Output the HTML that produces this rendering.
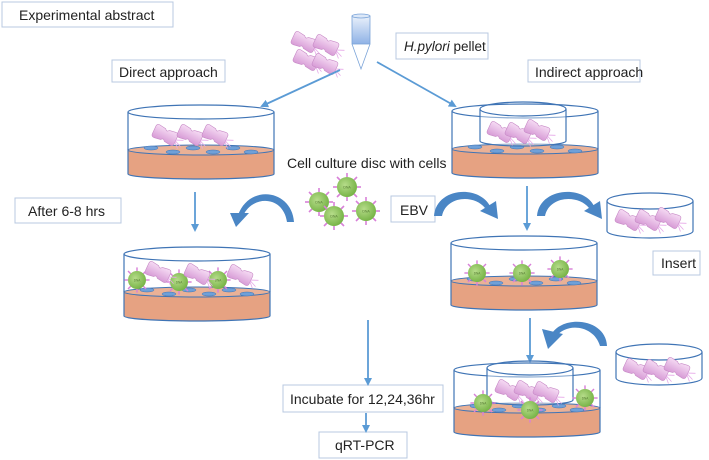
<!DOCTYPE html>
<html><head><meta charset="utf-8"><style>
html,body{margin:0;padding:0;background:#fff;}
svg{display:block;font-family:"Liberation Sans",sans-serif;}
</style></head><body>
<svg width="709" height="460" viewBox="0 0 709 460" xmlns="http://www.w3.org/2000/svg">
<defs>
<linearGradient id="tube" x1="0" y1="0" x2="0" y2="1"><stop offset="0" stop-color="#eaf1fb"/><stop offset="1" stop-color="#8fb2e6"/></linearGradient>
<linearGradient id="bac" x1="0" y1="0" x2="0" y2="1"><stop offset="0" stop-color="#f6dcf4"/><stop offset="1" stop-color="#d79bd6"/></linearGradient>
<radialGradient id="vir" cx="0.4" cy="0.4" r="0.7"><stop offset="0" stop-color="#b6dc8a"/><stop offset="1" stop-color="#6fae3e"/></radialGradient>
<g id="b">
  <path d="M-12,-4 Q-12,-7 -9,-7 L-2,-6 Q0,-3 2,-6 L9,-7 Q12,-7 12,-4 L12,4 Q12,7 9,7 L2,6 Q0,3 -2,6 L-9,7 Q-12,7 -12,4 Z" fill="url(#bac)" stroke="#c78ac6" stroke-width="0.6"/>
  <path d="M12,0 L19,-3 M12,1 L19,4 M12,2 L17,7" stroke="#e6a8e8" stroke-width="0.8" fill="none"/>
</g>
<g id="v">
  <g stroke="#d880d8" stroke-width="1.6">
  <line x1="0" y1="-10" x2="0" y2="-14"/><line x1="0" y1="10" x2="0" y2="14"/><line x1="-10" y1="0" x2="-14" y2="0"/><line x1="10" y1="0" x2="14" y2="0"/>
  <line x1="7" y1="7" x2="10" y2="10"/><line x1="-7" y1="7" x2="-10" y2="10"/><line x1="7" y1="-7" x2="10" y2="-10"/><line x1="-7" y1="-7" x2="-10" y2="-10"/>
  </g>
  <circle r="10" fill="url(#vir)"/>
  <text x="0" y="1.5" font-size="3.5" text-anchor="middle" fill="#557a33">DNA</text>
</g>
<g id="cells">
  <ellipse cx="-50" cy="3" rx="7" ry="2" fill="#6fa0d8" stroke="#3f74b5" stroke-width="0.5"/>
  <ellipse cx="-28" cy="7" rx="7" ry="2" fill="#6fa0d8" stroke="#3f74b5" stroke-width="0.5"/>
  <ellipse cx="-8" cy="3" rx="7" ry="2" fill="#6fa0d8" stroke="#3f74b5" stroke-width="0.5"/>
  <ellipse cx="12" cy="7" rx="7" ry="2" fill="#6fa0d8" stroke="#3f74b5" stroke-width="0.5"/>
  <ellipse cx="32" cy="3" rx="7" ry="2" fill="#6fa0d8" stroke="#3f74b5" stroke-width="0.5"/>
  <ellipse cx="50" cy="7" rx="7" ry="2" fill="#6fa0d8" stroke="#3f74b5" stroke-width="0.5"/>
</g>
<g id="dish">
  <path d="M-73,38 L-73,62 A73,5 0 0 0 73,62 L73,38 Z" fill="#e6a282" stroke="#3f74b5" stroke-width="1.2"/>
  <ellipse cx="0" cy="38" rx="73" ry="5" fill="#eab196" stroke="#3f74b5" stroke-width="1"/>
  <use href="#cells" x="0" y="33"/>
  <line x1="-73" y1="0" x2="-73" y2="38" stroke="#3f74b5" stroke-width="1.2"/>
  <line x1="73" y1="0" x2="73" y2="38" stroke="#3f74b5" stroke-width="1.2"/>
  <ellipse cx="0" cy="0" rx="73" ry="7" fill="none" stroke="#3f74b5" stroke-width="1.2"/>
</g>
<g id="ins">
  <path d="M-43,0 L-43,32 A43,5 0 0 0 43,32 L43,0" fill="rgba(255,255,255,0.4)" stroke="#3f74b5" stroke-width="1.2"/>
  <ellipse cx="0" cy="0" rx="43" ry="7" fill="none" stroke="#3f74b5" stroke-width="1.2"/>
</g>
<marker id="ah" markerWidth="8" markerHeight="8" refX="6" refY="4" orient="auto" markerUnits="userSpaceOnUse"><path d="M0,0 L8,4 L0,8 Z" fill="#5b9bd5"/></marker>
</defs>

<g fill="#fff" stroke="#b8c9e0" stroke-width="1">
<rect x="2" y="2" width="171" height="25"/>
<rect x="112" y="60" width="113" height="22"/>
<rect x="396" y="33" width="92" height="26"/>
<rect x="528" y="60" width="112" height="22"/>
<rect x="15" y="198" width="106" height="25"/>
<rect x="391" y="196" width="44" height="26"/>
<rect x="653" y="251" width="47" height="24"/>
<rect x="283" y="385" width="160" height="27"/>
<rect x="319" y="432" width="88" height="26"/>
</g>
<g font-size="14" fill="#222">
<text x="19" y="20">Experimental abstract</text>
<text x="119" y="77">Direct approach</text>
<text x="404" y="51" font-size="13.5"><tspan font-style="italic">H.pylori</tspan> pellet</text>
<text x="535" y="77">Indirect approach</text>
<text x="287" y="168">Cell culture disc with cells</text>
<text x="28" y="216">After 6-8 hrs</text>
<text x="400" y="215">EBV</text>
<text x="661" y="268">Insert</text>
<text x="290" y="404">Incubate for 12,24,36hr</text>
<text x="335" y="450">qRT-PCR</text>
</g>

<rect x="352" y="16" width="18" height="28" fill="url(#tube)" stroke="#7aa3d8" stroke-width="0.8"/>
<ellipse cx="361" cy="16" rx="9" ry="2" fill="#dce8f8" stroke="#7aa3d8" stroke-width="0.8"/>
<path d="M352,44 L361,69 L370,44" fill="none" stroke="#7aa3d8" stroke-width="0.8"/>
<use href="#b" transform="translate(304,42) rotate(25)"/>
<use href="#b" transform="translate(326,45) rotate(25)"/>
<use href="#b" transform="translate(306,60) rotate(25)"/>
<use href="#b" transform="translate(325,64) rotate(25)"/>

<g stroke="#5b9bd5" stroke-width="1.8" fill="none" marker-end="url(#ah)">
<line x1="340" y1="70" x2="262" y2="106"/>
<line x1="377" y1="62" x2="455" y2="106"/>
<line x1="195" y1="192" x2="195" y2="230"/>
<line x1="527" y1="186" x2="527" y2="229"/>
<line x1="368" y1="320" x2="368" y2="384"/>
<line x1="366" y1="413" x2="366" y2="431"/>
<line x1="530" y1="318" x2="530" y2="361"/>
</g>

<use href="#dish" x="201" y="112"/>
<use href="#b" transform="translate(165,135) rotate(25)"/>
<use href="#b" transform="translate(190,135) rotate(25)"/>
<use href="#b" transform="translate(215,135) rotate(25)"/>

<use href="#dish" x="525" y="111"/>
<use href="#ins" x="523" y="109"/>
<use href="#b" transform="translate(500,132) rotate(25)"/>
<use href="#b" transform="translate(518,133) rotate(25)"/>
<use href="#b" transform="translate(537,130) rotate(25)"/>

<use href="#dish" x="197" y="254"/>
<use href="#v" transform="translate(137,280) scale(0.9)"/>
<use href="#v" transform="translate(179,282) scale(0.9)"/>
<use href="#v" transform="translate(218,280) scale(0.9)"/>
<use href="#b" transform="translate(158,272) rotate(25)"/>
<use href="#b" transform="translate(197,274) rotate(25)"/>
<use href="#b" transform="translate(240,275) rotate(25)"/>

<use href="#dish" x="524" y="243"/>
<use href="#v" transform="translate(477,273) scale(0.9)"/>
<use href="#v" transform="translate(522,273) scale(0.9)"/>
<use href="#v" transform="translate(560,269) scale(0.9)"/>

<use href="#dish" x="527" y="370"/>
<use href="#ins" x="530" y="368"/>
<use href="#b" transform="translate(508,390) rotate(25)"/>
<use href="#b" transform="translate(527,391) rotate(25)"/>
<use href="#b" transform="translate(546,392) rotate(25)"/>
<use href="#v" transform="translate(483,403) scale(0.9)"/>
<use href="#v" transform="translate(530,410) scale(0.9)"/>
<use href="#v" transform="translate(585,398) scale(0.9)"/>

<g>
<path d="M607,201 L607,231 A43,7 0 0 0 693,231 L693,201" fill="#fff" stroke="#3f74b5" stroke-width="1.2"/>
<ellipse cx="650" cy="201" rx="43" ry="8" fill="#fff" stroke="#3f74b5" stroke-width="1.2"/>
<use href="#b" transform="translate(628,220) rotate(25)"/>
<use href="#b" transform="translate(648,220) rotate(25)"/>
<use href="#b" transform="translate(668,218) rotate(25)"/>
</g>
<g>
<path d="M616,352 L616,378 A43,7 0 0 0 702,378 L702,352" fill="#fff" stroke="#3f74b5" stroke-width="1.2"/>
<ellipse cx="659" cy="352" rx="43" ry="8" fill="#fff" stroke="#3f74b5" stroke-width="1.2"/>
<use href="#b" transform="translate(636,369) rotate(25)"/>
<use href="#b" transform="translate(656,370) rotate(25)"/>
<use href="#b" transform="translate(677,368) rotate(25)"/>
</g>

<use href="#v" x="319" y="202"/>
<use href="#v" x="347" y="187"/>
<use href="#v" x="334" y="216"/>
<use href="#v" x="366" y="211"/>

<g fill="#4a86c5">
<path d="M294,222 C292,190 250,183 238,215 L243,216 C252,195 283,195 287,222 Z"/>
<path d="M230,213 L249,213 L236,227 Z"/>
<path d="M434,216 C436,188 478,184 490,206 L485,208 C474,194 446,196 442,216 Z"/>
<path d="M480,211 L496,201 L498,219 Z"/>
<path d="M537,216 C539,188 583,184 594,206 L589,208 C578,194 549,196 545,216 Z"/>
<path d="M584,211 L600,201 L602,219 Z"/>
<path d="M607,346 C606,318 562,314 551,335 L556,337 C566,322 594,325 600,346 Z"/>
<path d="M542,329 L563,334 L548,349 Z"/>
</g>
</svg>
</body></html>
